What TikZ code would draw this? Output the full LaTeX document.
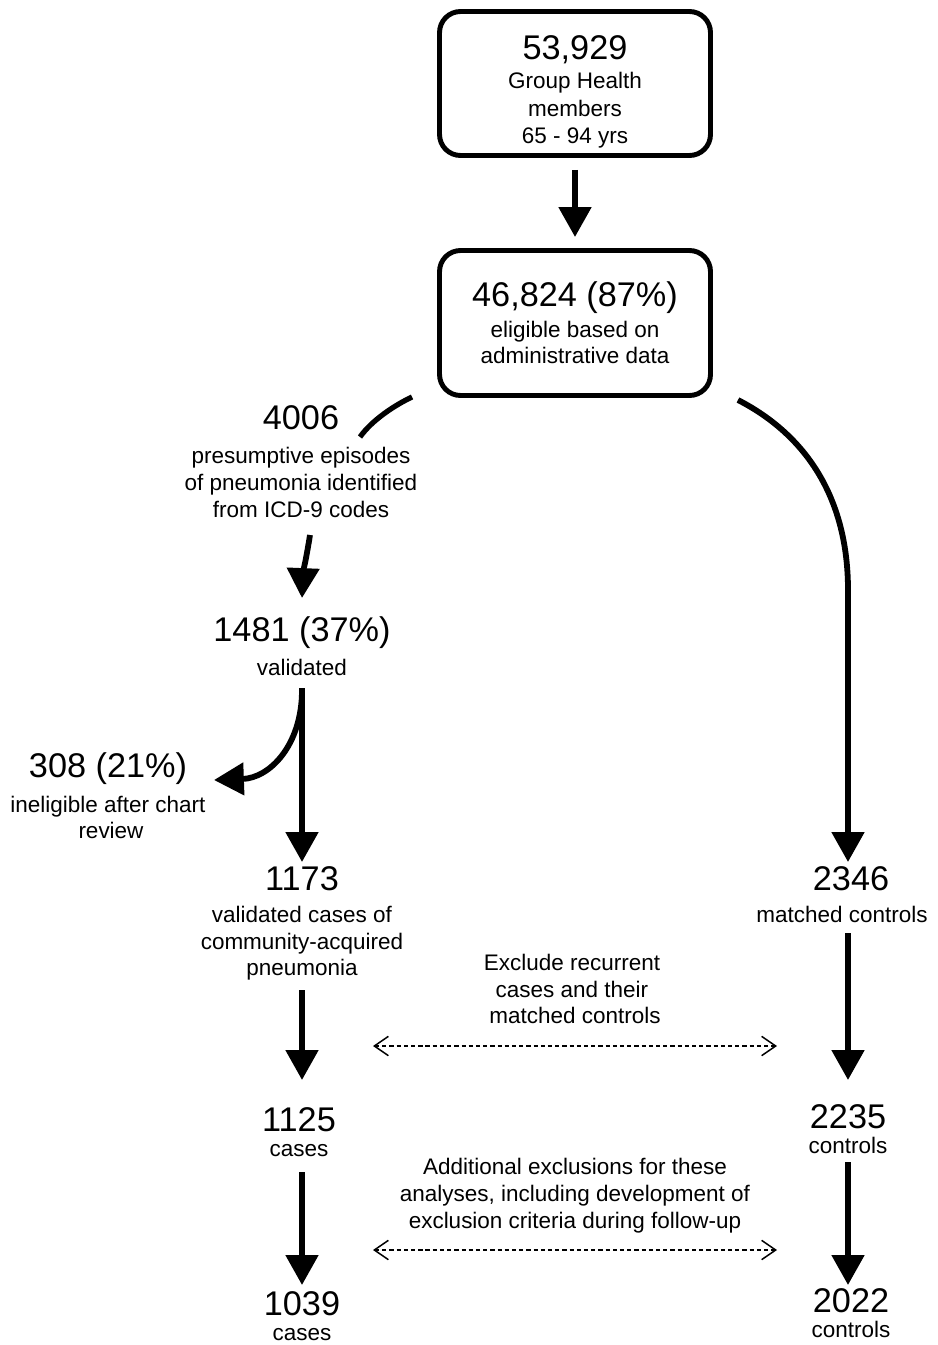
\documentclass[tikz,border=0pt]{standalone}
\usepackage{fontspec}
\setmainfont{Liberation Sans}
\usetikzlibrary{arrows.meta,calc}
\begin{document}
\begin{tikzpicture}[x=0.02cm,y=-0.02cm,
  big/.style={font=\fontsize{19.5}{23}\selectfont, inner sep=0pt, anchor=base},
  sm/.style={font=\fontsize{12.8}{15}\selectfont, inner sep=0pt, anchor=base},
  bx/.style={draw, line width=2.8pt, rounded corners=0.42cm, minimum width=5.42cm, inner sep=0pt, outer sep=0pt},
  arr/.style={line width=3.3pt, -{Triangle[width=18pt,length=17pt]}},
  stub/.style={line width=3pt},
  darr/.style={line width=0.85pt, dash pattern=on 2.4pt off 1.7pt,
     {Straight Barb[length=8pt,width=11pt,line width=0.85pt]}-{Straight Barb[length=8pt,width=11pt,line width=0.85pt]}}
]
\useasboundingbox (0,0) rectangle (937,1345);
% boxes
\node[bx, minimum height=2.88cm] (b1) at (575,83.5) {};
\node[big] (t1) at (575,60) {53,929};
\node[sm] (t1a) at (575,89) {Group Health};
\node[sm] (t1b) at (575,116) {members};
\node[sm] (t1c) at (575,143) {65 - 94 yrs};

\node[bx, minimum height=2.9cm] (b2) at (575,323) {};
\node[big] (t2) at (575,306) {46,824 (87\%)};
\node[sm] (t2a) at (575,337) {eligible based on};
\node[sm] (t2b) at (575,363) {administrative data};

% left column
\node[big] (n4006) at (301,429) {4006};
\node[sm] (p1) at (301,463) {presumptive episodes};
\node[sm] (p2) at (301,490) {of pneumonia identified};
\node[sm] (p3) at (301,517) {from ICD-9 codes};

\node[big] (n1481) at (302,641) {1481 (37\%)};
\node[sm] (v1) at (302,675) {validated};

\node[big] (n308) at (108,777) {308 (21\%)};
\node[sm] (i1) at (108,812) {ineligible after chart};
\node[sm] (i2) at (111,838) {review};

\node[big] (n1173) at (302,890) {1173};
\node[sm] (c1) at (302,922) {validated cases of};
\node[sm] (c2) at (302,949) {community-acquired};
\node[sm] (c3) at (302,975) {pneumonia};

\node[big] (n1125) at (299,1131) {1125};
\node[sm] (k1) at (299,1156) {cases};

\node[big] (n1039) at (302,1315) {1039};
\node[sm] (k3) at (302,1340) {cases};

% right column
\node[big] (n2346) at (851,890) {2346};
\node[sm] (m1) at (842,922) {matched controls};

\node[big] (n2235) at (848,1128) {2235};
\node[sm] (k2) at (848,1153) {controls};

\node[big] (n2022) at (851,1312) {2022};
\node[sm] (k4) at (851,1337) {controls};

% middle notes
\node[sm] (e1) at (572,970) {Exclude recurrent};
\node[sm] (e2) at (572,997) {cases and their};
\node[sm] (e3) at (575,1023) {matched controls};

\node[sm] (a1) at (575,1174) {Additional exclusions for these};
\node[sm] (a2) at (575,1201) {analyses, including development of};
\node[sm] (a3) at (575,1228) {exclusion criteria during follow-up};

% connectors
\draw[arr] ($(b1.south)+(0,14.5)$) -- ($(b2.north)+(0,-13.5)$);

\coordinate (stubend) at ($(n4006.base)+(59,8)$);
\draw[stub] ($(b2.south west)+(-27.5,1.5)$) .. controls +(-17,8) and +(12,-17) .. (stubend);

\coordinate (rbend) at ($(n2346.base)+(-3,-300)$);
\draw[arr] ($(b2.south east)+(27.5,4.5)$) .. controls +(70,36) and +(0,-90) .. (rbend) -- ($(n2346.base)+(-3,-28)$);

\draw[arr] ($(p3.base)+(9,18)$) .. controls +(-4,25) and +(1,-25) .. ($(n1481.base)+(0,-43)$);

\draw[arr] ($(v1.base)+(0,13)$) -- ($(n1173.base)+(0,-28)$);
\draw[arr] ($(v1.base)+(0,15)$) .. controls +(0,55) and +(56,-2) .. ($(n308.base)+(106,3)$);

\draw[arr] ($(c3.base)+(0,15)$) -- ($(n1125.base)+(3,-51)$);
\draw[arr] ($(m1.base)+(6,11)$) -- ($(n2235.base)+(0,-48)$);
\draw[arr] ($(k1.base)+(3,16)$) -- ($(n1039.base)+(0,-30)$);
\draw[arr] ($(k2.base)+(0,9)$) -- ($(n2022.base)+(-3,-27)$);

\draw[darr] ($(e3.base)+(-202,23)$) -- ($(e3.base)+(202,23)$);
\draw[darr] ($(a3.base)+(-202,22)$) -- ($(a3.base)+(202,22)$);
\end{tikzpicture}
\end{document}
